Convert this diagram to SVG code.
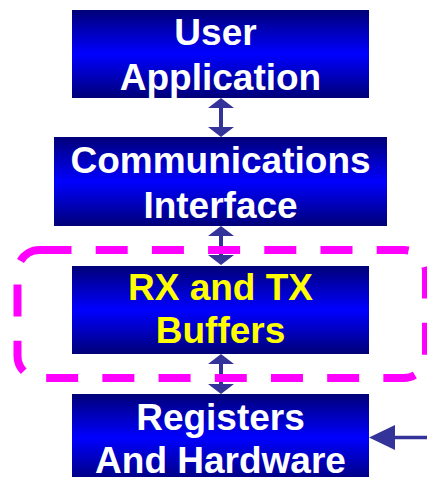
<svg xmlns="http://www.w3.org/2000/svg" width="427" height="477" viewBox="0 0 427 477">
  <defs>
    <linearGradient id="boxFill" x1="0" y1="0" x2="0" y2="1">
      <stop offset="0" stop-color="#000078"/>
      <stop offset="0.5" stop-color="#0000ff"/>
      <stop offset="1" stop-color="#000078"/>
    </linearGradient>
    <style>
      .box { fill: url(#boxFill); }
      .label { font-family: "Liberation Sans", Arial, sans-serif; font-weight: bold; font-size: 37px; text-anchor: middle; }
      .white { fill: #ffffff; }
      .yellow { fill: #ffff00; }
      .arrow { fill: #333399; }
      .boundary { fill: none; stroke: #ff00ff; stroke-width: 8; stroke-dasharray: 32 24.2; }
    </style>
  </defs>

  <rect width="427" height="477" fill="#ffffff"/>

  <g id="user-application">
    <rect class="box" x="72" y="10" width="297" height="88"/>
    <text class="label white" x="215.5" y="45">User</text>
    <text class="label white" x="220.5" y="90">Application</text>
  </g>

  <g id="communications-interface">
    <rect class="box" x="54" y="137" width="333" height="89"/>
    <text class="label white" x="220.5" y="173">Communications</text>
    <text class="label white" x="220.5" y="218">Interface</text>
  </g>

  <g id="rx-tx-buffers">
    <rect class="box" x="72" y="266" width="297" height="88"/>
    <text class="label yellow" x="220.5" y="300">RX and TX</text>
    <text class="label yellow" x="220.5" y="343">Buffers</text>
  </g>

  <g id="registers-hardware">
    <rect class="box" x="72" y="394" width="297" height="88"/>
    <text class="label white" x="220.5" y="430">Registers</text>
    <text class="label white" x="220.5" y="473">And Hardware</text>
  </g>

  <g id="connectors">
    <!-- double-headed links between stacked layers -->
    <path class="arrow" d="M221,98 L234,108 L223,108 L223,127 L234,127 L221,137 L208,127 L219,127 L219,108 L208,108 Z"/>
    <path class="arrow" d="M221,226 L234,236 L223,236 L223,255 L234,255 L221,265 L208,255 L219,255 L219,236 L208,236 Z"/>
    <path class="arrow" d="M221,354 L234,364 L223,364 L223,384 L234,384 L221,394 L208,384 L219,384 L219,364 L208,364 Z"/>
    <!-- external input into the hardware layer -->
    <path class="arrow" d="M369,437.5 L395,425 L395,435.7 L427,435.7 L427,439.3 L395,439.3 L395,450 Z"/>
  </g>

  <g id="buffer-boundary">
    <path class="boundary" d="M39.5,250 L404,250 A22,22 0 0 1 426,272 L426,356 A22,22 0 0 1 404,378 L39.5,378 A22,22 0 0 1 17.5,356 L17.5,272 A22,22 0 0 1 39.5,250 Z"/>
  </g>
</svg>
